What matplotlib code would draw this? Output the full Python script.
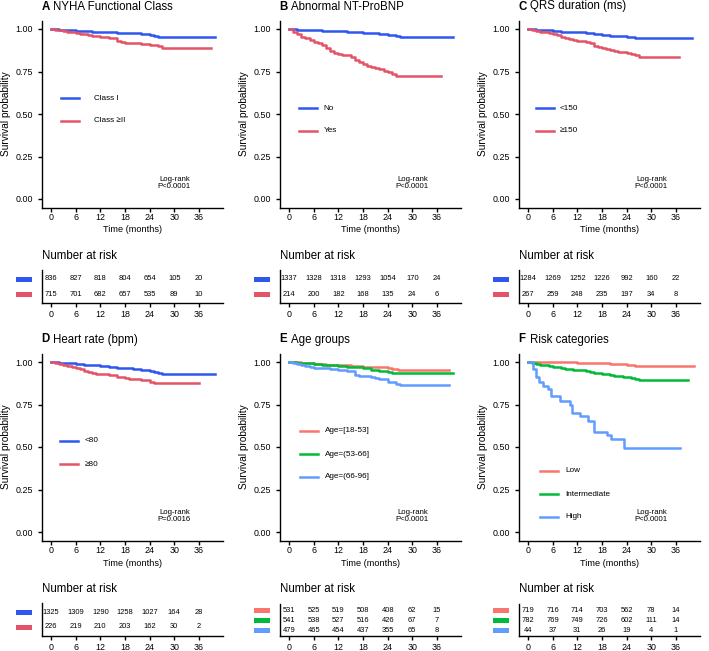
import matplotlib
matplotlib.use("Agg")
import matplotlib.pyplot as plt
from matplotlib import font_manager
from matplotlib.lines import Line2D
from matplotlib.patches import Rectangle

plt.rcParams['font.family'] = ['Liberation Sans', 'DejaVu Sans']
installed = {f.name for f in font_manager.fontManager.ttflist}
NARROW = 'Liberation Sans Narrow' if 'Liberation Sans Narrow' in installed else 'Liberation Sans'

months = [0, 6, 12, 18, 24, 30, 36]
p_values = ["P<0.0001", "P<0.0001", "P<0.0001", "P=0.0016", "P<0.0001", "P<0.0001"]

# A - NYHA functional class
nyha_labels = ["Class I", "Class \u2265II"]
nyha_t1 = [0, 2, 4, 6, 8, 10, 12, 14, 16, 18, 20, 22, 24, 25, 26, 27, 40]
nyha_s1 = [1, .997, .994, .991, .988, .985, .983, .981, .979, .977, .974, .970, .965, .960, .955, .951, .951]
nyha_t2 = [0, 1, 2, 3, 4, 5, 6, 7, 8, 9, 10, 11, 12, 13, 14, 15, 16, 17, 18, 20, 22, 24, 26, 27, 39]
nyha_s2 = [1, .996, .993, .99, .985, .98, .976, .972, .968, .964, .961, .958, .955, .952, .948, .945,
           .93, .925, .92, .915, .91, .905, .898, .89, .89]
nyha_risk1 = [836, 827, 818, 804, 654, 105, 20]
nyha_risk2 = [715, 701, 682, 657, 535, 89, 10]

# B - abnormal NT-proBNP
bnp_labels = ["No", "Yes"]
bnp_t1 = [0, 2, 4, 6, 8, 10, 12, 14, 16, 18, 20, 22, 24, 26, 27, 40]
bnp_s1 = [1, .997, .995, .993, .991, .99, .988, .985, .982, .978, .975, .971, .966, .958, .952, .952]
bnp_t2 = [0, 1, 2, 3, 4, 5, 6, 7, 8, 9, 10, 11, 12, 13, 14, 15, 16, 17, 18, 19, 20, 21, 22, 23, 24, 25, 26, 37]
bnp_s2 = [1, .985, .97, .955, .945, .935, .925, .915, .905, .89, .87, .86, .855, .85, .845, .835, .815,
          .805, .795, .785, .775, .77, .765, .755, .745, .735, .725, .725]
bnp_risk1 = [1337, 1328, 1318, 1293, 1054, 170, 24]
bnp_risk2 = [214, 200, 182, 168, 135, 24, 6]

# C - QRS duration
qrs_labels = ["<150", "\u2265150"]
qrs_t1 = [0, 2, 4, 6, 8, 10, 12, 14, 16, 18, 20, 22, 24, 26, 40]
qrs_s1 = [1, .996, .992, .988, .985, .982, .98, .976, .97, .965, .961, .957, .953, .946, .946]
qrs_t2 = [0, 1, 2, 3, 4, 5, 6, 7, 8, 9, 10, 11, 12, 13, 14, 15, 16, 17, 18, 19, 20, 21, 22, 23, 24, 25, 26, 27, 36.7]
qrs_s2 = [1, .995, .99, .985, .98, .975, .969, .962, .955, .948, .941, .936, .931, .928, .925, .92, .902,
          .895, .886, .882, .878, .872, .866, .862, .857, .852, .845, .833, .833]
qrs_risk1 = [1284, 1269, 1252, 1226, 992, 160, 22]
qrs_risk2 = [267, 259, 248, 235, 197, 34, 8]

# D - heart rate
hr_labels = ["<80", "\u226580"]
hr_t1 = [0, 2, 4, 6, 8, 10, 12, 14, 16, 18, 20, 22, 24, 25, 26, 27, 40]
hr_s1 = [1, .996, .992, .988, .984, .98, .976, .972, .966, .962, .957, .952, .945, .94, .935, .929, .929]
hr_t2 = [0, 1, 2, 3, 4, 5, 6, 7, 8, 9, 10, 11, 12, 14, 15, 16, 18, 19, 20, 22, 24, 25, 36]
hr_s2 = [1, .995, .99, .985, .978, .97, .963, .956, .95, .944, .938, .932, .927, .925, .925, .91, .905,
         .902, .9, .895, .88, .875, .875]
hr_risk1 = [1325, 1309, 1290, 1258, 1027, 164, 28]
hr_risk2 = [226, 219, 210, 203, 162, 30, 2]

# E - age groups
age_labels = ["Age=[18-53]", "Age=(53-66]", "Age=(66-96]"]
age_t1 = [0, 3, 6, 9, 12, 15, 18, 21, 24, 25, 26.5, 39]
age_s1 = [1, .995, .99, .985, .98, .976, .972, .968, .965, .96, .955, .955]
age_t2 = [0, 2, 4, 6, 8, 10, 12, 14, 16, 18, 20, 22, 24, 25, 40]
age_s2 = [1, .996, .992, .988, .984, .981, .978, .973, .968, .963, .955, .95, .943, .938, .938]
age_t3 = [0, 1, 2, 3, 4, 5, 6, 8, 10, 12, 14, 15, 16, 17, 18, 20, 21, 22, 24, 25, 26, 27, 39]
age_s3 = [1, .993, .986, .98, .975, .97, .967, .963, .96, .955, .95, .945, .925, .92, .915, .91, .905,
          .898, .885, .88, .873, .867, .867]
age_risk1 = [531, 525, 519, 508, 408, 62, 15]
age_risk2 = [541, 538, 527, 516, 426, 67, 7]
age_risk3 = [479, 465, 454, 437, 355, 65, 8]

# F - risk categories
risk_labels = ["Low", "Intermediate", "High"]
risk_t1 = [0, 6, 12, 18, 20, 22, 24, 25, 26, 40.5]
risk_s1 = [1, .998, .996, .993, .99, .988, .985, .98, .975, .975]
risk_t2 = [0, 1, 2, 3, 4, 5, 6, 7, 8, 9, 10, 11, 12, 13, 14, 15, 16, 17, 18, 19, 20, 21, 22, 23, 24, 25, 26, 27, 39]
risk_s2 = [1, .995, .99, .985, .98, .976, .972, .968, .964, .96, .957, .955, .955, .952, .948, .942, .937,
           .933, .93, .927, .923, .92, .917, .914, .911, .907, .901, .896, .896]
risk_t3 = [0, 1.1, 1.9, 2.7, 3.6, 4.8, 5.6, 7.7, 10.2, 10.6, 12.6, 14.7, 16.0, 19.3, 20.1, 23.4, 37]
risk_s3 = [1, .96, .91, .88, .86, .84, .80, .77, .745, .70, .68, .655, .59, .57, .545, .495, .495]
risk_risk1 = [719, 716, 714, 703, 562, 78, 14]
risk_risk2 = [782, 769, 749, 726, 602, 111, 14]
risk_risk3 = [44, 37, 31, 26, 19, 4, 1]

two_cols = ["#2F56EE", "#E35468"]
three_cols = ["#F8766D", "#00BA38", "#619CFF"]

# layout, in pixels
W, H = 709, 651
XMIN, XMAX = -2.1, 41.9
PXM = 4.11      # px per month
PXS = 170       # px per unit survival
col_x0 = [51, 289, 528]
row_top = [29, 362]
risk_bottom = [303, 636]

fig = plt.figure(figsize=(W / 100, H / 100), dpi=100)


def px_axes(left, top, right, bottom):
    return fig.add_axes([left / W, 1 - bottom / H, (right - left) / W, (bottom - top) / H])


def style(ax):
    for s in ['top', 'right']:
        ax.spines[s].set_visible(False)
    for s in ['left', 'bottom']:
        ax.spines[s].set_linewidth(1.0)
    ax.tick_params(length=3, width=1.0, labelsize=6.4, colors='black')


def draw_panel(r, c, letter, title, labels, colors, curves, risk, pval, leg_dx, leg_dy, leg_gap):
    x0, y1 = col_x0[c], row_top[r]
    left, right = x0 + XMIN * PXM, x0 + XMAX * PXM
    top, bottom = y1 - 0.05 * PXS, y1 + 1.05 * PXS
    ax = px_axes(left, top, right, bottom)
    for (t, s), col in zip(curves, colors):
        ax.step(t, s, where='post', color=col, lw=1.8)
    ax.set_xlim(XMIN, XMAX)
    ax.set_ylim(-0.05, 1.05)
    ax.set_xticks(months)
    ax.set_yticks([0, 0.25, 0.5, 0.75, 1])
    ax.set_yticklabels(["0.00", "0.25", "0.50", "0.75", "1.00"])
    style(ax)
    ax.tick_params(axis='x', pad=1)
    ax.tick_params(axis='y', pad=4)
    ax.text(30, 0.094, "Log-rank\n" + pval, ha='center', va='center', fontsize=5.6,
            family=NARROW, linespacing=1.1)

    # legend inside the plot
    for i, (lab, col) in enumerate(zip(labels, colors)):
        yy = 1 - (y1 + leg_dy + i * 23) / H
        fig.add_artist(Line2D([(left + leg_dx) / W, (left + leg_dx + 18) / W], [yy, yy], color=col, lw=1.8))
        fig.text((left + leg_dx + 18 + leg_gap) / W, yy, lab, va='center', fontsize=5.9, family=NARROW)

    fig.text((left - 1) / W, 1 - (y1 - 19.5) / H, letter, fontsize=8.3, weight='bold', va='baseline')
    fig.text((left + 11) / W, 1 - (y1 - 19.5) / H, title, fontsize=8.3, va='baseline')
    fig.text((left + right) / 2 / W, 1 - (bottom + 22.5) / H, "Time (months)", fontsize=6.6,
             ha='center', va='center')
    fig.text((left - 36) / W, 1 - (y1 + 0.5 * PXS) / H, "Survival probability", fontsize=7.3,
             rotation=90, ha='center', va='center')

    # number at risk table
    n = len(risk)
    unit = 15 if n == 2 else 10
    rb = risk_bottom[r]
    rt = rb - (n + 0.2) * unit
    rax = px_axes(left, rt, right, rb)
    for i, (row, col) in enumerate(zip(risk, colors)):
        for m, v in zip(months, row):
            rax.text(m, n - i, str(v), ha='center', va='center', fontsize=5.4, family=NARROW)
        ypx = rb - (n - i - 0.4) * unit
        fig.add_artist(Rectangle(((left - 26) / W, 1 - (ypx + 2.5) / H), 16 / W, 5 / H,
                                 color=col, lw=0, transform=fig.transFigure))
    rax.set_xlim(XMIN, XMAX)
    rax.set_ylim(0.4, n + 0.6)
    rax.set_xticks(months)
    rax.set_yticks([])
    style(rax)
    rax.tick_params(axis='x', pad=2)
    fig.text(left / W, 1 - (rb - 44) / H, "Number at risk", fontsize=8.3, va='baseline')


draw_panel(0, 0, "A", "NYHA Functional Class", nyha_labels, two_cols,
           [(nyha_t1, nyha_s1), (nyha_t2, nyha_s2)], [nyha_risk1, nyha_risk2], p_values[0], 19, 69, 15)
draw_panel(0, 1, "B", "Abnormal NT-ProBNP", bnp_labels, two_cols,
           [(bnp_t1, bnp_s1), (bnp_t2, bnp_s2)], [bnp_risk1, bnp_risk2], p_values[1], 19, 79, 6)
draw_panel(0, 2, "C", "QRS duration (ms)", qrs_labels, two_cols,
           [(qrs_t1, qrs_s1), (qrs_t2, qrs_s2)], [qrs_risk1, qrs_risk2], p_values[2], 17, 79, 5)
draw_panel(1, 0, "D", "Heart rate (bpm)", hr_labels, two_cols,
           [(hr_t1, hr_s1), (hr_t2, hr_s2)], [hr_risk1, hr_risk2], p_values[3], 18, 79, 6)
draw_panel(1, 1, "E", "Age groups", age_labels, three_cols,
           [(age_t1, age_s1), (age_t2, age_s2), (age_t3, age_s3)],
           [age_risk1, age_risk2, age_risk3], p_values[4], 20, 69, 7)
draw_panel(1, 2, "F", "Risk categories", risk_labels, three_cols,
           [(risk_t1, risk_s1), (risk_t2, risk_s2), (risk_t3, risk_s3)],
           [risk_risk1, risk_risk2, risk_risk3], p_values[5], 21, 109, 7)

fig.savefig("out.png", dpi=100)
